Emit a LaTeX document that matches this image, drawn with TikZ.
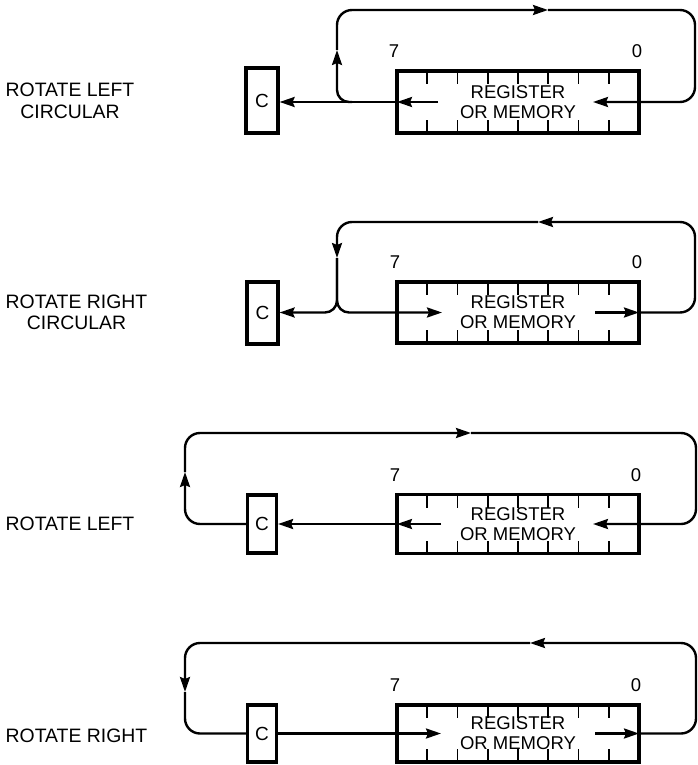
\documentclass[tikz,border=0pt]{standalone}
\usepackage{fontspec}
\setmainfont{Liberation Sans}
\usetikzlibrary{arrows.meta,calc}
\begin{document}
\begin{tikzpicture}[x=1pt,y=-1pt,
  >={Stealth[length=15pt,width=10pt,inset=2pt]},
  conn/.style={line width=2.4pt, line join=round},
  regbox/.style={draw, line width=3.2pt, minimum width=242pt, inner sep=0pt, outer sep=0pt,
     align=center, font=\fontsize{18.5}{20}\selectfont},
  cbox/.style={draw, line width=3.2pt, inner sep=0pt, font=\fontsize{19}{20}\selectfont},
  tick/.style={line width=1.8pt},
  digit/.style={anchor=base, inner sep=0pt, font=\fontsize{18.5}{20}\selectfont},
  lbl/.style={anchor=base west, inner sep=0pt, font=\fontsize{19.4}{21}\selectfont},
  lblb/.style={anchor=base, inner sep=0pt, font=\fontsize{19.4}{21}\selectfont}
]
\useasboundingbox (0,0) rectangle (698,765);

% ---------- Panel 1: rotate left circular ----------
\node[lbl] (t1) at (5.5,97) {ROTATE LEFT};
\node[lblb] (t1b) at ([yshift=-21pt]t1.base) {CIRCULAR};
\node[regbox, minimum height=62pt] (r1) at (518,102) {REGISTER\\OR MEMORY};
\node[cbox, minimum width=32pt, minimum height=65pt] (c1) at (262,100.5) {C};
\node[digit] (s1) at (394,57.5) {7};
\node[digit] (z1) at (637,57.5) {0};
\foreach \i in {1,...,7} {
  \draw[tick] ($(r1.north west)+(\i*30.25,0)$) -- ++(0,13);
  \draw[tick] ($(r1.south west)+(\i*30.25,0)$) -- ++(0,-13);
}
\coordinate (a1) at (337,50);
\coordinate (b1) at (548,10);
\coordinate (i1) at ($(r1.west)+(41,0)$);
\coordinate (j1) at ($(r1.west)+(196,0)$);
\draw[conn,->] (r1.west) -- (c1.east |- r1.west);
\draw[conn,->] (i1) -- (r1.west);
\draw[conn,->,rounded corners=12pt] (352,102) -- (337,102) -- (a1);
\draw[conn,->,rounded corners=15pt] (a1) -- (337,10) -- (b1);
\draw[conn,->,rounded corners=15pt] (b1) -- (695,10) -- (695,102) -- (j1);

% ---------- Panel 2: rotate right circular ----------
\node[lbl] (t2) at (5.5,308) {ROTATE RIGHT};
\node[lblb] (t2b) at ([yshift=-21pt]t2.base) {CIRCULAR};
\node[regbox, minimum height=61pt] (r2) at (518,312.5) {REGISTER\\OR MEMORY};
\node[cbox, minimum width=31pt, minimum height=62pt] (c2) at (262.5,313) {C};
\node[digit] (s2) at (395,268.5) {7};
\node[digit] (z2) at (637,268.5) {0};
\foreach \i in {1,...,7} {
  \draw[tick] ($(r2.north west)+(\i*30.25,0)$) -- ++(0,13);
  \draw[tick] ($(r2.south west)+(\i*30.25,0)$) -- ++(0,-13);
}
\coordinate (a2) at (337,258);
\coordinate (b2) at (538,222);
\coordinate (i2) at ($(r2.east)+(-44,0)$);
\coordinate (j2) at ($(r2.west)+(45,0)$);
\draw[conn,->] (i2) -- (r2.east);
\draw[conn,->,rounded corners=15pt] (r2.east) -- (695,312.5) -- (695,222) -- (b2);
\draw[conn,->,rounded corners=15pt] (b2) -- (337,222) -- (a2);
\draw[conn,->,rounded corners=12pt] (a2) -- (337,312.5) -- (c2.east |- r2.west);
\draw[conn,->,rounded corners=12pt] (a2) -- (337,312.5) -- (j2);

% ---------- Panel 3: rotate left ----------
\node[lbl] (t3) at (5.5,530) {ROTATE LEFT};
\node[regbox, minimum height=59pt] (r3) at (518,524) {REGISTER\\OR MEMORY};
\node[cbox, minimum width=29pt, minimum height=58pt] (c3) at (262,524) {C};
\node[digit] (s3) at (395,481) {7};
\node[digit] (z3) at (636,481) {0};
\foreach \i in {1,...,7} {
  \draw[tick] ($(r3.north west)+(\i*30.25,0)$) -- ++(0,13);
  \draw[tick] ($(r3.south west)+(\i*30.25,0)$) -- ++(0,-13);
}
\coordinate (a3) at (185,472);
\coordinate (b3) at (471,433);
\coordinate (i3) at ($(r3.west)+(44,0)$);
\coordinate (j3) at ($(r3.west)+(196,0)$);
\draw[conn,->] (r3.west) -- (c3.east |- r3.west);
\draw[conn,->] (i3) -- (r3.west);
\draw[conn,->,rounded corners=15pt] (c3.west |- r3.west) -- (185,524) -- (a3);
\draw[conn,->,rounded corners=15pt] (a3) -- (185,433) -- (b3);
\draw[conn,->,rounded corners=15pt] (b3) -- (696,433) -- (696,524) -- (j3);

% ---------- Panel 4: rotate right ----------
\node[lbl] (t4) at (5.5,742) {ROTATE RIGHT};
\node[regbox, minimum height=57pt] (r4) at (518,733.5) {REGISTER\\OR MEMORY};
\node[cbox, minimum width=29pt, minimum height=57pt] (c4) at (262,733.5) {C};
\node[digit] (s4) at (395,691.5) {7};
\node[digit] (z4) at (636,691.5) {0};
\foreach \i in {1,...,7} {
  \draw[tick] ($(r4.north west)+(\i*30.25,0)$) -- ++(0,13);
  \draw[tick] ($(r4.south west)+(\i*30.25,0)$) -- ++(0,-13);
}
\coordinate (a4) at (185,692);
\coordinate (b4) at (530,643);
\coordinate (i4) at ($(r4.east)+(-44,0)$);
\coordinate (j4) at ($(r4.west)+(44,0)$);
\draw[conn,->] (i4) -- (r4.east);
\draw[conn,->,rounded corners=15pt] (r4.east) -- (696,733.5) -- (696,643) -- (b4);
\draw[conn,->,rounded corners=15pt] (b4) -- (185,643) -- (a4);
\draw[conn,rounded corners=15pt] (a4) -- (185,733.5) -- (c4.west |- r4.west);
\draw[conn,->] (c4.east |- r4.west) -- (j4);
\end{tikzpicture}
\end{document}
